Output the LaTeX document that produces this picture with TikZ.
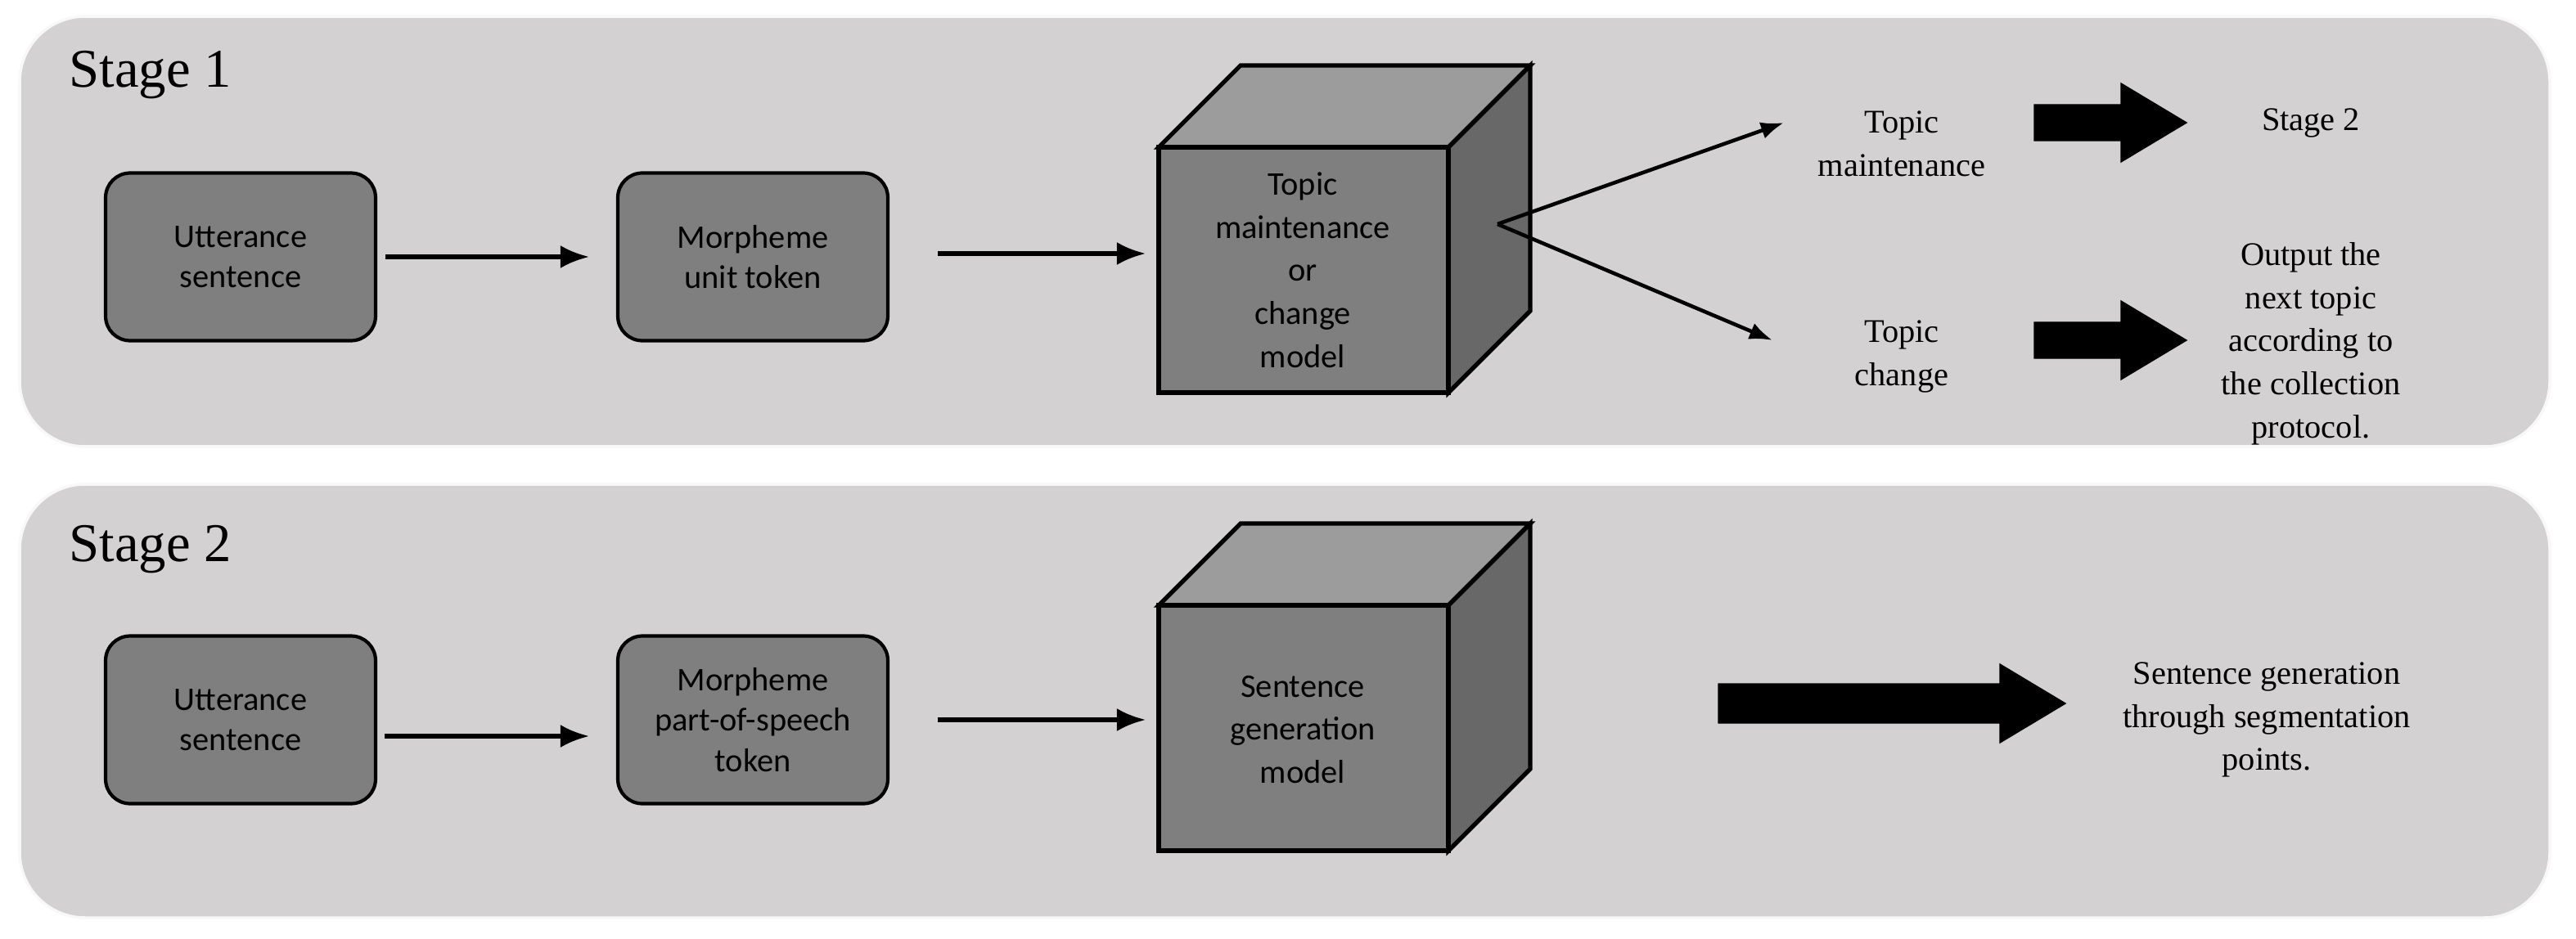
\documentclass[tikz,border=0pt]{standalone}
\usepackage{fontspec}
\setmainfont{Liberation Serif}
\newfontfamily\boxfont{Carlito}
\usetikzlibrary{arrows.meta}
\definecolor{panel}{HTML}{D3D1D2}
\definecolor{boxg}{HTML}{7F7F7F}
\definecolor{topg}{HTML}{9C9C9C}
\definecolor{sideg}{HTML}{686868}
\begin{document}
\begin{tikzpicture}[x=0.02cm,y=-0.02cm,
  panelst/.style={fill=panel,draw=white!85!panel,line width=1pt,rounded corners=0.8cm},
  rbox/.style={draw=black,line width=1.2pt,fill=boxg,rounded corners=0.3cm,minimum width=3.3cm,minimum height=2.05cm,align=center,font=\boxfont\fontsize{11.5}{14}\selectfont},
  cubetxt/.style={align=center,font=\boxfont\fontsize{11.5}{15}\selectfont},
  lbl/.style={align=center,font=\fontsize{11.5}{15}\selectfont},
  stage/.style={anchor=west,font=\fontsize{19}{22}\selectfont},
  arr/.style={-{Latex[length=10pt,width=8pt]},line width=1.5pt},
  thin/.style={-{Latex[length=8pt,width=6pt]},line width=1.3pt},
  fat/.style={fill=black}
]
\useasboundingbox (0,0) rectangle (1574,574);
\fill[white] (0,0) rectangle (1574,574);
% panels
\path[panelst] (12,10) rectangle (1558,273);
\path[panelst] (12,296) rectangle (1558,561);
\node[stage] (s1) at (36,46) {Stage 1};
\node[stage] (s2) at (36,336) {Stage 2};
% Stage 1
\node[rbox] (u1) at (147,157) {Utterance\\sentence};
\node[rbox] (m1) at (460,157) {Morpheme\\unit token};
\draw[arr] (u1.east)++(5,0) coordinate (a1) -- (360,157) coordinate (b1);
\draw[arr] (573,155) coordinate (a2) -- (700,155) coordinate (b2);
% cube 1
\draw[line width=1.5pt,fill=topg] (708,90) -- (758,40) -- (935,40) -- (885,90) -- cycle;
\draw[line width=1.5pt,fill=sideg] (885,90) -- (935,40) -- (935,190) -- (885,240) -- cycle;
\draw[line width=1.5pt,fill=boxg] (708,90) rectangle (885,240);
\node[cubetxt] (c1) at (796,165) {Topic\\maintenance\\or\\change\\model};
\coordinate (v) at (915,137);
\node[lbl] (tm) at (1162,88) {Topic\\maintenance};
\node[lbl] (tc) at (1162,218) {Topic\\change};
\draw[thin] (v) -- (1090,75);
\draw[thin] (v) -- (1083,208);
\node[lbl] (st2) at (1412,75) {Stage 2};
\node[lbl] (out) at (1412,210) {Output the\\next topic\\according to\\the collection\\protocol.};
\draw[fat] (1243,64) -- (1296,64) -- (1296,51) -- (1336,75) -- (1296,99) -- (1296,86) -- (1243,86) -- cycle;
\draw[fat] (1243,197) -- (1296,197) -- (1296,184) -- (1336,208) -- (1296,232) -- (1296,219) -- (1243,219) -- cycle;
% Stage 2
\node[rbox] (u2) at (147,440) {Utterance\\sentence};
\node[rbox] (m2) at (460,440) {Morpheme\\part-of-speech\\token};
\draw[arr] (235,450) -- (360,450);
\draw[arr] (573,440) -- (700,440);
\draw[line width=1.5pt,fill=topg] (708,370) -- (758,320) -- (935,320) -- (885,370) -- cycle;
\draw[line width=1.5pt,fill=sideg] (885,370) -- (935,320) -- (935,470) -- (885,520) -- cycle;
\draw[line width=1.5pt,fill=boxg] (708,370) rectangle (885,520);
\node[cubetxt] (c2) at (796,446) {Sentence\\generation\\model};
\draw[fat] (1050,418) -- (1222,418) -- (1222,406) -- (1262,430) -- (1222,454) -- (1222,442) -- (1050,442) -- cycle;
\node[lbl] (sg) at (1385,440) {Sentence generation\\through segmentation\\points.};
\end{tikzpicture}
\end{document}
